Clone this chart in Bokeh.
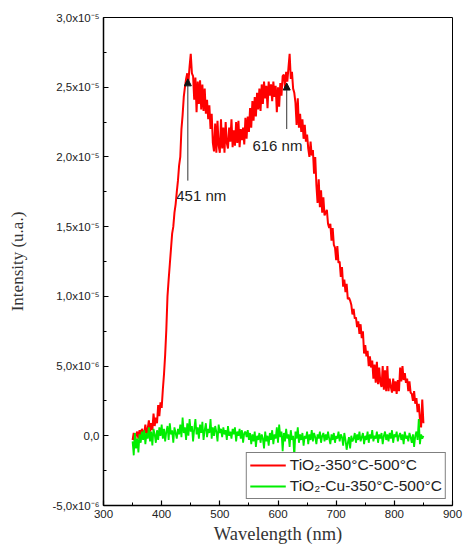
from bokeh.plotting import figure
from bokeh.models import FixedTicker, Legend, LegendItem, Arrow, NormalHead, Label
from bokeh.embed import file_html
from bokeh.resources import INLINE

# wavelength grid (nm)
wavelength = list(range(350, 851, 2))

# intensities in units of 1e-6 (u.a.)
tio2 = [
    -0.3, 0.2, -0.4, 0.1, 0.3, -0.2, 0.4, 0.0, 0.5, 0.2,
    0.2, 0.8, 0.1, 0.5, 1.1, 0.3, 0.9, 0.4, 1.6, 0.7,
    1.3, 0.9, 2.2, 1.4, 2.4, 2.0, 3.3, 4.4, 5.8, 7.6,
    10.0, 11.2, 12.3, 13.4, 14.5, 15.0, 16.0, 16.6, 17.5, 18.3,
    19.4, 20.0, 22.0, 23.0, 24.3, 25.0, 25.6, 26.0, 25.4, 26.5,
    27.4, 26.0, 25.8, 24.1, 25.7, 23.2, 25.4, 23.8, 25.5, 23.4,
    25.2, 23.3, 24.9, 23.1, 24.1, 22.7, 23.7, 22.0, 23.1, 21.0,
    20.4, 22.4, 20.3, 22.6, 20.8, 20.3, 22.7, 20.6, 22.1, 20.3,
    22.5, 21.0, 20.6, 22.1, 21.1, 22.7, 20.7, 21.9, 20.8, 22.5,
    21.0, 22.6, 20.7, 22.0, 21.2, 22.1, 20.9, 22.8, 21.3, 22.9,
    21.8, 23.5, 22.1, 24.0, 22.6, 24.3, 22.9, 24.6, 23.4, 24.9,
    23.3, 25.2, 23.8, 25.4, 24.2, 25.1, 23.5, 25.4, 24.4, 25.2,
    24.0, 25.4, 24.3, 25.1, 23.2, 25.0, 23.6, 25.3, 24.4, 25.8,
    25.9, 25.0, 26.1, 25.4, 26.4, 27.4, 25.6, 26.1, 24.9, 24.6,
    23.9, 22.3, 24.2, 22.1, 23.1, 21.8, 22.7, 21.3, 22.3, 21.1,
    21.6, 20.6, 20.0, 21.1, 20.1, 20.5, 18.8, 20.0, 18.0, 16.7,
    18.4, 16.4, 17.6, 16.0, 17.1, 15.8, 16.0, 16.2, 15.2, 14.9,
    15.2, 14.0, 14.9, 13.7, 13.5, 12.6, 13.6, 12.4, 12.5, 11.4,
    12.1, 10.7, 11.2, 10.3, 10.9, 9.8, 9.9, 9.7, 9.4, 8.7,
    9.1, 8.4, 8.5, 7.8, 8.2, 7.3, 8.0, 7.0, 7.5, 5.9,
    6.5, 5.7, 6.1, 5.0, 5.7, 4.9, 5.4, 4.1, 5.1, 3.8,
    5.3, 3.7, 4.9, 3.8, 3.5, 5.0, 3.3, 4.7, 3.2, 5.0,
    3.2, 4.1, 3.5, 3.1, 4.1, 3.2, 3.9, 3.0, 4.0, 3.2,
    4.9, 3.9, 5.0, 4.0, 4.5, 3.8, 4.1, 3.2, 3.9, 3.1,
    3.0, 2.5, 3.2, 2.3, 2.7, 1.7, 2.3, 1.2, 0.6, 2.6,
    0.9,
]

tio2_cu = [
    -0.4, -1.4, 0.2, -0.9, -0.2, -1.2, 0.1, -0.5, 0.3, -0.3,
    0.4, -0.6, 0.2, -0.2, 0.6, -0.4, 0.3, -0.7, 0.5, 0.1,
    -0.5, 0.4, -0.3, 0.6, 0.0, 0.8, -0.2, 0.5, -0.4, 0.3,
    0.7, -0.3, 0.9, 0.1, 0.4, -0.5, 0.6, 0.2, -0.2, 0.5,
    0.1, 0.8, -0.1, 1.3, 0.2, 0.6, -0.3, 0.9, 0.0, 1.2,
    0.3, 0.7, -0.4, 0.5, 1.2, 0.1, 0.6, -0.2, 0.8, 0.2,
    1.0, -0.3, 0.4, 0.9, -0.1, 0.5, 0.2, 1.2, -0.2, 0.6,
    0.0, 0.7, 0.3, -0.4, 0.8, 0.2, 0.5, -0.1, 0.6, 0.1,
    0.4, -0.3, 0.7, 0.0, 0.3, -0.2, 0.5, 0.1, 0.6, -0.4,
    0.3, 0.0, 0.5, -0.2, 0.4, -0.5, 0.2, 0.3, -0.1, 0.4,
    -0.3, 0.2, -0.6, 0.1, -0.4, 0.3, -0.8, 0.0, -0.3, 0.2,
    -0.5, 0.1, -0.2, -0.9, 0.3, -0.4, 0.0, -0.7, 0.2, -0.3,
    0.4, -0.6, 0.1, -0.2, 0.6, -0.5, 0.8, -0.1, 0.3, -1.1,
    0.2, -0.4, 0.5, -0.2, 0.1, -0.8, 0.4, -0.3, 0.0, -1.5,
    0.3, -0.2, 0.6, -0.5, 0.1, -0.3, 0.2, -0.7, 0.0, -0.2,
    0.3, -0.6, 0.1, -0.3, 0.4, -0.4, 0.2, -0.1, -0.6, 0.1,
    -0.2, 0.3, -0.5, 0.0, 0.2, -0.4, 0.1, -0.3, 0.3, -0.2,
    -0.6, 0.1, -0.3, 0.2, -0.5, 0.0, -0.2, 0.3, -0.4, 0.1,
    -0.1, -0.7, 0.2, -0.3, -1.0, -0.5, -0.1, -0.9, 0.0, -0.4,
    -0.2, 0.2, -0.5, 0.1, -0.3, 0.3, -0.4, -0.1, 0.2, -0.6,
    0.0, -0.3, 0.3, -0.5, 0.1, -0.2, 0.4, -0.4, 0.0, -0.2,
    0.3, -0.5, 0.1, -0.2, 0.2, -0.6, 0.0, 0.3, -0.3, 0.1,
    -0.4, 0.2, -0.2, 0.4, -0.5, 0.1, -0.1, 0.3, -0.4, 0.0,
    0.2, -0.3, 0.1, -0.6, 0.3, -0.2, 0.0, -0.4, 0.2, -0.1,
    -0.5, 0.1, -0.8, 0.0, 0.3, -0.3, 1.2, -0.6, 0.1, -0.2,
    0.0,
]

x_ticks = [300, 400, 500, 600, 700, 800, 900]
x_minor = [350, 450, 550, 650, 750, 850]
y_ticks = [-5, 0, 5, 10, 15, 20, 25, 30]
y_minor = [-2.5, 2.5, 7.5, 12.5, 17.5, 22.5, 27.5]
y_tick_labels = ["-5,0x10\u207b\u2076", "0,0", "5,0x10\u207b\u2076", "1,0x10\u207b\u2075",
                 "1,5x10\u207b\u2075", "2,0x10\u207b\u2075", "2,5x10\u207b\u2075", "3,0x10\u207b\u2075"]

series_names = ["TiO\u2082-350\u00b0C-500\u00b0C", "TiO\u2082-Cu-350\u00b0C-500\u00b0C"]

# peak annotations
peak_labels = ["451 nm", "616 nm"]
peak_arrow_x = [445, 615]
peak_arrow_tail = [18.3, 22.0]
peak_arrow_head = [25.6, 25.3]
peak_text_x = [425, 556]
peak_text_y = [17.2, 20.8]

p = figure(width=464, height=546, output_backend="svg", toolbar_location=None,
           x_range=(300, 900), y_range=(-5, 30),
           min_border_left=103, min_border_right=12, min_border_top=17, min_border_bottom=40)
p.xgrid.visible = False
p.ygrid.visible = False
p.outline_line_color = "black"
p.outline_line_width = 1
p.background_fill_color = "white"
p.border_fill_color = "white"

r1 = p.line(wavelength, tio2, line_color="#ff0000", line_width=2)
r2 = p.line(wavelength, tio2_cu, line_color="#00ee00", line_width=1.8)

for ax in (p.xaxis[0], p.yaxis[0]):
    ax.major_tick_in = 5
    ax.major_tick_out = 0
    ax.minor_tick_in = 3
    ax.minor_tick_out = 0
    ax.axis_line_width = 1.5
    ax.major_tick_line_width = 1.2
    ax.major_label_text_font = "Liberation Sans"
    ax.major_label_text_font_size = "11.5px"
    ax.major_label_text_color = "#222222"
    ax.axis_label_text_font = "Liberation Serif"
    ax.axis_label_text_font_style = "normal"
    ax.axis_label_text_color = "#333333"

p.xaxis.ticker = FixedTicker(ticks=x_ticks, minor_ticks=x_minor)
p.yaxis.ticker = FixedTicker(ticks=y_ticks, minor_ticks=y_minor)
p.yaxis.major_label_overrides = {t: l for t, l in zip(y_ticks, y_tick_labels)}
p.xaxis.axis_label = "Wavelength (nm)"
p.yaxis.axis_label = "Intensity (u.a.)"
p.xaxis.axis_label_text_font_size = "18.5px"
p.yaxis.axis_label_text_font_size = "17px"
p.xaxis.major_label_standoff = 4
p.yaxis.major_label_standoff = 4
p.xaxis.axis_label_standoff = 3
p.yaxis.axis_label_standoff = 22

for i in range(2):
    p.add_layout(Arrow(end=NormalHead(size=7, fill_color="#111111", line_color="#111111"),
                       x_start=peak_arrow_x[i], y_start=peak_arrow_tail[i],
                       x_end=peak_arrow_x[i], y_end=peak_arrow_head[i],
                       line_color="#333333", line_width=1))
    p.add_layout(Label(x=peak_text_x[i], y=peak_text_y[i], text=peak_labels[i],
                       text_font="Liberation Sans", text_font_size="15px",
                       text_color="#222222", text_baseline="middle"))

legend = Legend(items=[LegendItem(label=series_names[0], renderers=[r1]),
                       LegendItem(label=series_names[1], renderers=[r2])],
                location="bottom_right")
legend.border_line_color = "black"
legend.border_line_width = 1
legend.label_text_font = "Liberation Sans"
legend.label_text_font_size = "15.5px"
legend.label_text_color = "#222222"
legend.glyph_width = 36
legend.glyph_height = 16
legend.label_height = 16
legend.spacing = 3
legend.padding = 3
legend.margin = 6
legend.label_standoff = 4
legend.background_fill_alpha = 1
p.add_layout(legend, "center")

open("out.html", "w").write(file_html(p, INLINE))
